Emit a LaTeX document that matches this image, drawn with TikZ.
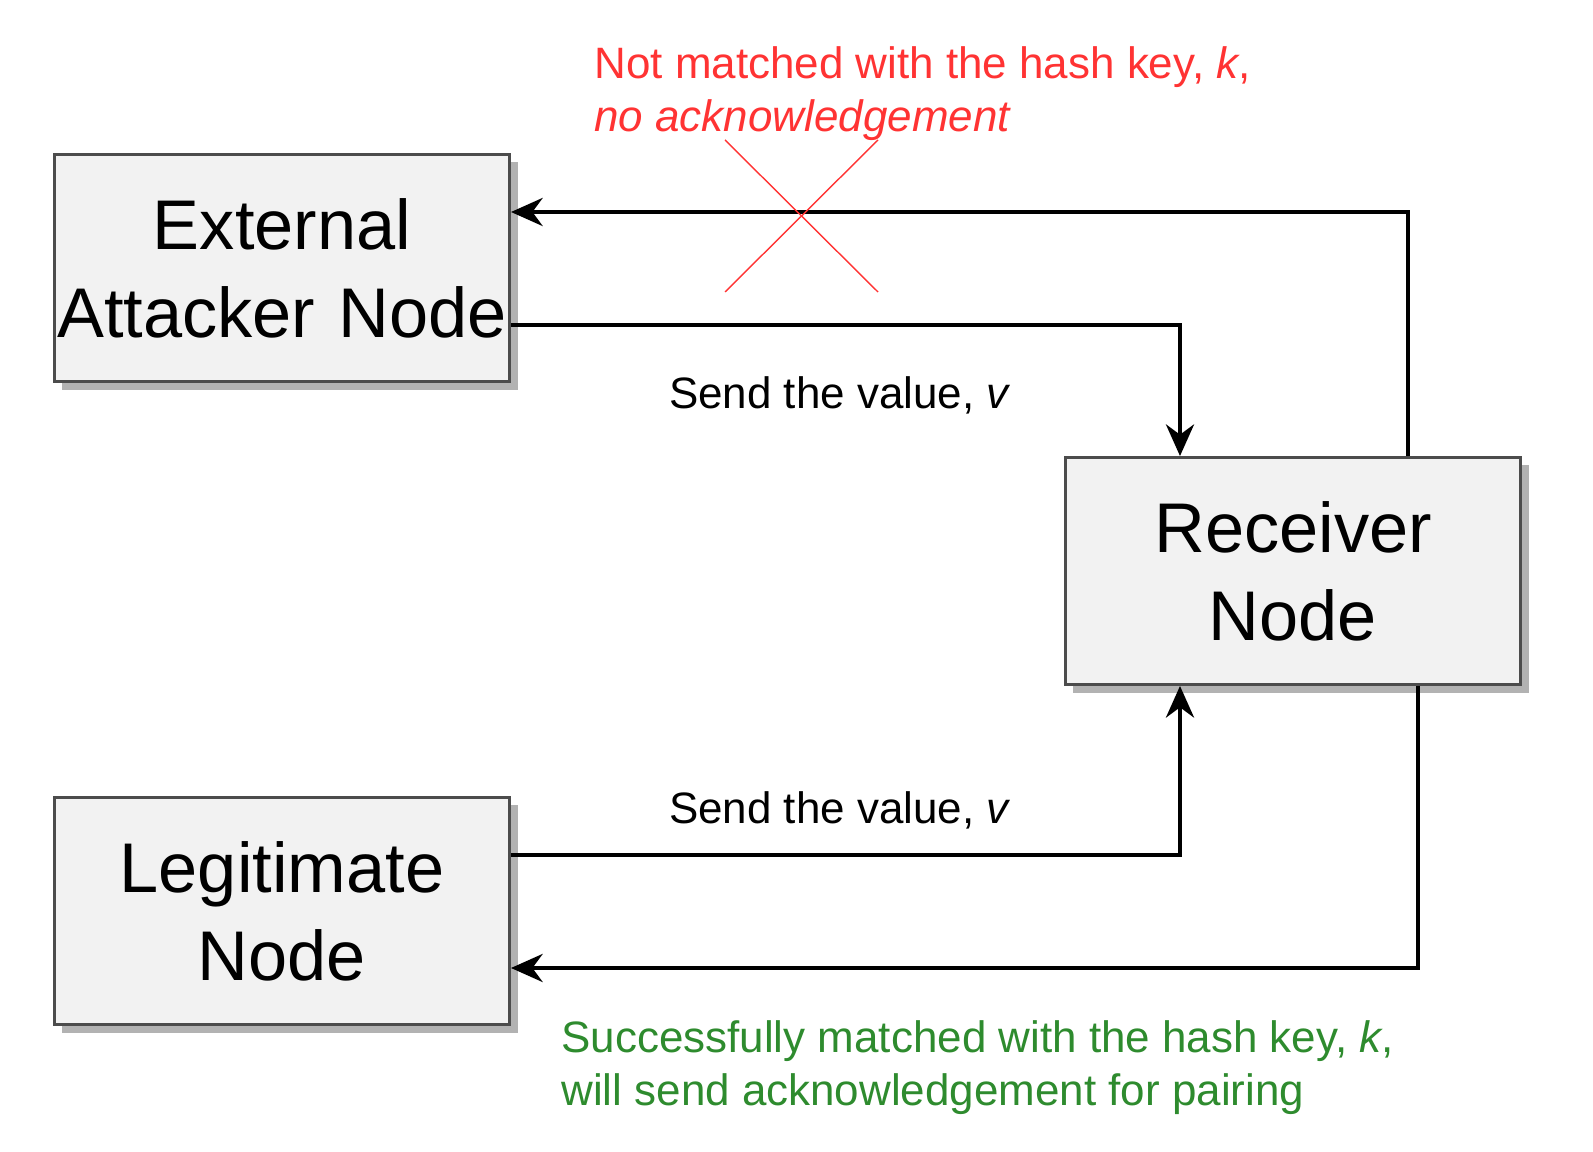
\documentclass[tikz,border=0pt]{standalone}
\usepackage{fontspec}
\setmainfont{Liberation Sans}
\usetikzlibrary{shadows,arrows.meta}
\definecolor{boxfill}{HTML}{F2F2F2}
\definecolor{okgreen}{HTML}{2E8B2E}
\definecolor{badred}{HTML}{FF3333}
\tikzset{
  box/.style={draw=black!70,thick,fill=boxfill,inner xsep=0pt,text width=4.55cm,
    minimum height=2.27cm,align=center,font=\fontsize{20}{25}\selectfont,
    drop shadow={shadow xshift=0.08cm,shadow yshift=-0.08cm,fill=black!30,opacity=1}},
  link/.style={line width=1pt,-{Stealth[length=9pt,width=8pt]}},
  lbl/.style={font=\fontsize{12.5}{15}\selectfont,align=left}
}
\begin{document}
\begin{tikzpicture}[x=0.01cm,y=-0.01cm]
      \useasboundingbox (0,0) rectangle (1593,1152);
      \node (ext) [box] at (282,268) {External\\Attacker Node};
      \node (leg) [box] at (282,911) {Legitimate\\Node};
      \node (rec) [box] at (1293,571) {Receiver\\Node};

      \coordinate (c1) at (1408,212);
      \coordinate (c2) at (1180,325);
      \coordinate (c3) at (1180,855);
      \coordinate (c4) at (1418,968);

      \draw[link] (rec.north -| c1) |- (ext.east |- c1);
      \draw[link] (ext.east |- c2) -| (rec.north -| c2);
      \draw[link] (leg.east |- c3) -| (rec.south -| c3);
      \draw[link] (rec.south -| c4) |- (leg.east |- c4);

      % failed acknowledgement
      \coordinate (x1) at (725,140);
      \coordinate (x2) at (878,292);
      \coordinate (x3) at (878,140);
      \coordinate (x4) at (725,292);
      \draw[badred] (x1) -- (x2);
      \draw[badred] (x3) -- (x4);

      \node (bad) [lbl,text=badred,anchor=north west] at (582,34)
        {Not matched with the hash key, \emph{k},\\\emph{no acknowledgement}};
      \node (good) [lbl,text=okgreen,anchor=north west] at (549,1008)
        {Successfully matched with the hash key, \emph{k},\\will send acknowledgement for pairing};
      \node (send1) [lbl] at (840,395) {Send the value, \emph{v}};
      \node (send2) [lbl] at (840,810) {Send the value, \emph{v}};
\end{tikzpicture}
\end{document}
